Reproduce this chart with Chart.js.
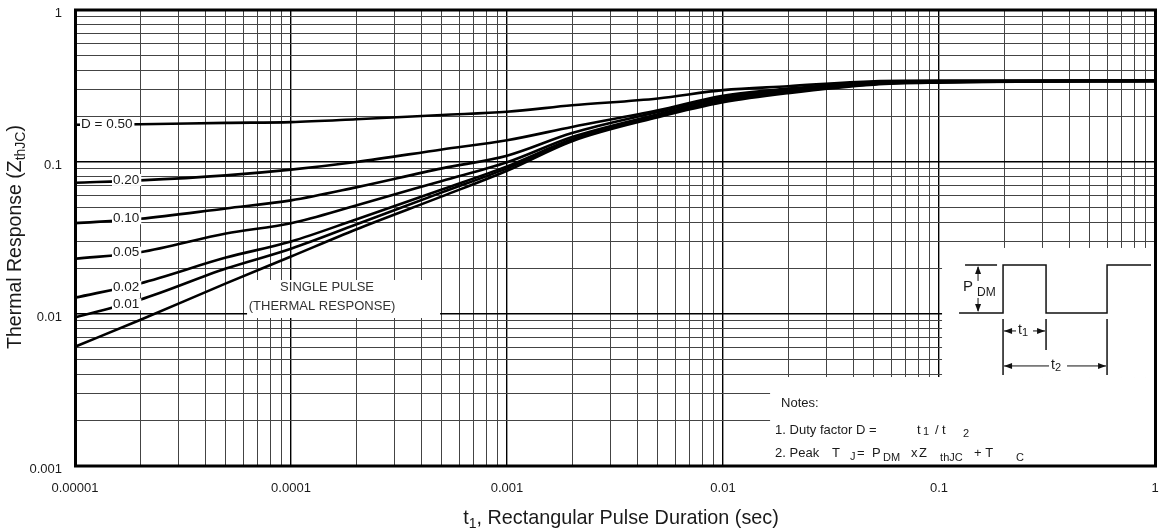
<!DOCTYPE html>
<html>
<head>
<meta charset="utf-8">
<script src="https://cdn.jsdelivr.net/npm/chart.js@4.4.0/dist/chart.umd.min.js"></script>
<style>
  html, body { margin: 0; padding: 0; background: #fff; }
</style>
</head>
<body>
<canvas id="zth" width="1159" height="529"></canvas>
<script>
var pulseTimes = [0.00001, 0.00002, 0.00005, 0.0001, 0.0002, 0.0005, 0.001, 0.002, 0.005, 0.01, 0.02, 0.05, 0.1, 1];

// Zth(jc) per duty factor
var zD50 = [0.176, 0.177, 0.181, 0.183, 0.191, 0.204, 0.214, 0.236, 0.262, 0.297, 0.315, 0.340, 0.343, 0.343];
var zD20 = [0.0731, 0.0757, 0.0817, 0.0891, 0.100, 0.121, 0.139, 0.170, 0.219, 0.273, 0.304, 0.335, 0.340, 0.342];
var zD10 = [0.0396, 0.0423, 0.0495, 0.0559, 0.0681, 0.0908, 0.110, 0.155, 0.213, 0.267, 0.299, 0.333, 0.340, 0.342];
var zD05 = [0.0231, 0.0255, 0.0339, 0.0396, 0.0518, 0.0751, 0.0995, 0.146, 0.206, 0.261, 0.297, 0.330, 0.338, 0.342];
var zD02 = [0.0128, 0.0159, 0.0235, 0.0300, 0.0419, 0.0660, 0.0936, 0.141, 0.203, 0.255, 0.292, 0.328, 0.338, 0.342];
var zD01 = [0.0095, 0.0124, 0.0199, 0.0269, 0.0388, 0.0631, 0.0908, 0.139, 0.200, 0.251, 0.288, 0.325, 0.335, 0.342];
var zSingle = [0.00609, 0.00913, 0.0159, 0.0239, 0.0360, 0.0594, 0.0875, 0.137, 0.197, 0.247, 0.284, 0.323, 0.333, 0.342];

var seriesNames = ['D = 0.50', '0.20', '0.10', '0.05', '0.02', '0.01', 'SINGLE PULSE'];
var seriesValues = [zD50, zD20, zD10, zD05, zD02, zD01, zSingle];

// tick labels at the decades
var xTickLabels = ['0.00001', '0.0001', '0.001', '0.01', '0.1', '1'];
var yTickLabels = ['0.001', '0.01', '0.1', '1'];

var FONT = '"Liberation Sans", Arial, Helvetica, sans-serif';
var INK = '#1a1a1a';

// where the curve names sit (left offset from plot edge in px, value on y)
var curveTags = [
  { dx: 6, y: 0.178 },
  { dx: 38, y: 0.0762 },
  { dx: 38, y: 0.0426 },
  { dx: 38, y: 0.0253 },
  { dx: 38, y: 0.0151 },
  { dx: 38, y: 0.01158 }
];

// white areas that hide the grid, in data coords
var blanks = {
  single: { x0: 6.26e-5, x1: 4.9e-4, y0: 0.01674, y1: 0.00941 },
  inset: { x0: 0.1033, x1: 1, y0: 0.0272, y1: 0.00385 },
  notes: { x0: 0.01652, x1: 1, y0: 0.00385, y1: 0.001 }
};

function decadeTicks(lo, hi) {
  var t = [];
  for (var e = lo; e < hi; e++) {
    for (var m = 1; m < 10; m++) {
      t.push({ value: m * Math.pow(10, e), major: m === 1 });
    }
  }
  t.push({ value: Math.pow(10, hi), major: true });
  return t;
}

function tickText(labels, lo, nudge) {
  return function (value, index, ticks) {
    if (!ticks[index].major) return '';
    var s = labels[Math.round(Math.log10(value)) - lo];
    // empty first line pushes the label a little below its grid line
    return nudge ? ['', s] : s;
  };
}

function box(chart, b) {
  var xs = chart.scales.x, ys = chart.scales.y;
  var x0 = xs.getPixelForValue(b.x0), x1 = xs.getPixelForValue(b.x1);
  var y0 = ys.getPixelForValue(b.y0), y1 = ys.getPixelForValue(b.y1);
  return { left: x0, top: y0, width: x1 - x0, height: y1 - y0 };
}

function font(px) { return px + 'px ' + FONT; }

// draw runs of text: [text, size, dy]
function runs(c, parts, x, y) {
  var cx = x;
  parts.forEach(function (p) {
    c.font = font(p[1]);
    c.fillText(p[0], cx, y + p[2]);
    cx += c.measureText(p[0]).width;
  });
  return cx - x;
}

function runsWidth(c, parts) {
  var w = 0;
  parts.forEach(function (p) { c.font = font(p[1]); w += c.measureText(p[0]).width; });
  return w;
}

function arrowHead(c, x, y, dir) {
  // dir: where the tip points
  var L = 8, W = 3;
  c.beginPath();
  if (dir === 'l') { c.moveTo(x, y); c.lineTo(x + L, y - W); c.lineTo(x + L, y + W); }
  if (dir === 'r') { c.moveTo(x, y); c.lineTo(x - L, y - W); c.lineTo(x - L, y + W); }
  if (dir === 'u') { c.moveTo(x, y); c.lineTo(x - W, y + L); c.lineTo(x + W, y + L); }
  if (dir === 'd') { c.moveTo(x, y); c.lineTo(x - W, y - L); c.lineTo(x + W, y - L); }
  c.closePath();
  c.fill();
}

function line(c, x1, y1, x2, y2) {
  c.beginPath(); c.moveTo(x1, y1); c.lineTo(x2, y2); c.stroke();
}

function drawInset(c, ox, oy) {
  c.save();
  c.strokeStyle = '#111';
  c.fillStyle = '#111';
  c.lineWidth = 1.5;
  c.beginPath();
  c.moveTo(ox + 17, oy + 65);
  c.lineTo(ox + 61, oy + 65); c.lineTo(ox + 61, oy + 17);
  c.lineTo(ox + 104, oy + 17); c.lineTo(ox + 104, oy + 65);
  c.lineTo(ox + 165, oy + 65); c.lineTo(ox + 165, oy + 17);
  c.lineTo(ox + 209, oy + 17);
  c.stroke();
  line(c, ox + 23, oy + 17, ox + 55, oy + 17);

  c.lineWidth = 1;
  // P_DM arrow
  line(c, ox + 36, oy + 19, ox + 36, oy + 33);
  arrowHead(c, ox + 36, oy + 18, 'u');
  line(c, ox + 36, oy + 50, ox + 36, oy + 63);
  arrowHead(c, ox + 36, oy + 64, 'd');
  // t1 / t2 extension lines
  c.lineWidth = 1.5;
  line(c, ox + 61, oy + 71, ox + 61, oy + 127);
  line(c, ox + 104, oy + 71, ox + 104, oy + 102);
  line(c, ox + 165, oy + 71, ox + 165, oy + 127);
  c.lineWidth = 1;
  line(c, ox + 62, oy + 83, ox + 74, oy + 83);
  arrowHead(c, ox + 62, oy + 83, 'l');
  line(c, ox + 91, oy + 83, ox + 103, oy + 83);
  arrowHead(c, ox + 103, oy + 83, 'r');
  line(c, ox + 62, oy + 118, ox + 107, oy + 118);
  arrowHead(c, ox + 62, oy + 118, 'l');
  line(c, ox + 125, oy + 118, ox + 164, oy + 118);
  arrowHead(c, ox + 164, oy + 118, 'r');

  c.fillStyle = INK;
  c.textBaseline = 'middle';
  c.textAlign = 'left';
  c.font = font(15); c.fillText('P', ox + 21, oy + 39);
  c.font = font(12); c.fillText('DM', ox + 35, oy + 45);
  runs(c, [['t', 14, 0], ['1', 11, 3]], ox + 76, oy + 82);
  runs(c, [['t', 14, 0], ['2', 11, 3]], ox + 109, oy + 117);
  c.restore();
}

function drawNotes(c, ox, oy) {
  c.save();
  c.fillStyle = INK;
  c.textBaseline = 'middle';
  c.textAlign = 'left';
  c.font = font(13);
  c.fillText('Notes:', ox + 11, oy + 26);
  c.fillText('1. Duty factor D =', ox + 5, oy + 53);
  c.fillText('t', ox + 147, oy + 53);
  c.font = font(11); c.fillText('1', ox + 153, oy + 55);
  c.font = font(13);
  c.fillText('/', ox + 165, oy + 53);
  c.fillText('t', ox + 172, oy + 53);
  c.font = font(11); c.fillText('2', ox + 193, oy + 57);

  var y = oy + 76;
  c.font = font(13);
  c.fillText('2. Peak', ox + 5, y);
  c.fillText('T', ox + 62, y);
  c.fillText('=', ox + 87, y);
  c.fillText('P', ox + 102, y);
  c.fillText('x', ox + 141, y);
  c.fillText('Z', ox + 149, y);
  c.fillText('+ T', ox + 204, y);
  c.font = font(11);
  c.fillText('J', ox + 80, y + 4);
  c.fillText('DM', ox + 113, y + 5);
  c.fillText('thJC', ox + 170, y + 5);
  c.fillText('C', ox + 246, y + 5);
  c.restore();
}

var overlay = {
  id: 'overlay',
  beforeDatasetsDraw: function (chart) {
    var c = chart.ctx;
    c.save();
    c.fillStyle = '#fff';
    Object.keys(blanks).forEach(function (k) {
      var r = box(chart, blanks[k]);
      c.fillRect(r.left, r.top, r.width, r.height);
    });
    c.restore();
  },
  afterDatasetsDraw: function (chart) {
    var c = chart.ctx, a = chart.chartArea, ys = chart.scales.y;
    c.save();
    c.textBaseline = 'middle';
    c.textAlign = 'left';
    c.font = font(13.5);
    curveTags.forEach(function (t, i) {
      var y = ys.getPixelForValue(t.y);
      var x = a.left + t.dx;
      var w = c.measureText(seriesNames[i]).width;
      c.fillStyle = '#fff';
      c.fillRect(x - 1, y - 6, w + 3, 12);
      c.fillStyle = INK;
      c.fillText(seriesNames[i], x, y);
    });

    var sp = box(chart, blanks.single);
    c.font = font(13);
    c.textAlign = 'center';
    c.fillStyle = '#333';
    c.fillText('SINGLE PULSE', sp.left + 80, sp.top + 7);
    c.fillText('(THERMAL RESPONSE)', sp.left + 75, sp.top + 26);
    c.restore();

    var ib = box(chart, blanks.inset);
    drawInset(c, ib.left, ib.top);
    var nb = box(chart, blanks.notes);
    drawNotes(c, nb.left, nb.top);
  },
  afterDraw: function (chart) {
    var c = chart.ctx, a = chart.chartArea;
    c.save();
    // plot frame
    c.strokeStyle = '#000';
    c.lineWidth = 3;
    c.strokeRect(a.left + 0.5, a.top, a.right - a.left, a.bottom - a.top);

    // axis titles with subscripts
    c.fillStyle = INK;
    c.textBaseline = 'middle';
    c.textAlign = 'left';
    var xt = [['t', 19.8, 0], ['1', 14, 5], [', Rectangular Pulse Duration (sec)', 19.8, 0]];
    var w = runsWidth(c, xt);
    runs(c, xt, (a.left + a.right) / 2 + 6 - w / 2, 519);

    var yt = [['Thermal Response (Z', 19.5, 0], ['thJC', 14, 5], [')', 19.5, 0]];
    var wy = runsWidth(c, yt);
    c.translate(16, 237);
    c.rotate(-Math.PI / 2);
    runs(c, yt, -wy / 2, 0);
    c.restore();
  }
};

var datasets = seriesNames.map(function (name, i) {
  return {
    label: name,
    data: pulseTimes.map(function (t, j) { return { x: t, y: seriesValues[i][j] }; }),
    borderColor: '#000',
    borderWidth: 2.6,
    pointRadius: 0,
    fill: false,
    cubicInterpolationMode: 'monotone'
  };
});

function gridColor(ctx) { return ctx.tick && ctx.tick.major ? '#000' : '#444'; }
function gridWidth(ctx) { return ctx.tick && ctx.tick.major ? 1.4 : 1; }

var chart = new Chart(document.getElementById('zth'), {
  type: 'line',
  data: { datasets: datasets },
  options: {
    responsive: false,
    animation: false,
    devicePixelRatio: 1,
    layout: { padding: { top: 10, right: 4, left: 0, bottom: 0 } },
    plugins: {
      legend: { display: false },
      tooltip: { enabled: false }
    },
    scales: {
      x: {
        type: 'logarithmic',
        min: 0.00001,
        max: 1,
        afterBuildTicks: function (s) { s.ticks = decadeTicks(-5, 0); },
        afterFit: function (s) { s.height = 63; s.paddingLeft = 0; s.paddingRight = 0; },
        grid: { color: gridColor, lineWidth: gridWidth, drawTicks: false },
        border: { display: false },
        ticks: {
          autoSkip: false,
          maxRotation: 0,
          padding: 15,
          color: INK,
          font: { family: FONT, size: 13 },
          callback: tickText(xTickLabels, -5, false)
        }
      },
      y: {
        type: 'logarithmic',
        min: 0.001,
        max: 1,
        afterBuildTicks: function (s) { s.ticks = decadeTicks(-3, 0); },
        afterFit: function (s) { s.width = 75; s.paddingTop = 0; s.paddingBottom = 0; },
        grid: { color: gridColor, lineWidth: gridWidth, drawTicks: false },
        border: { display: false },
        ticks: {
          autoSkip: false,
          padding: 13,
          color: INK,
          font: { family: FONT, size: 13, lineHeight: 0.6 },
          callback: tickText(yTickLabels, -3, true)
        }
      }
    }
  },
  plugins: [overlay]
});
</script>
</body>
</html>
